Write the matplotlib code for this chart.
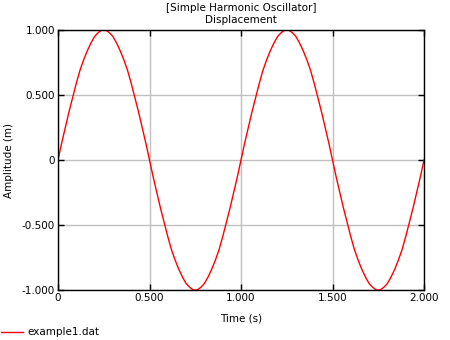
"""
Simple harmonic oscillator: displacement vs time from example1.dat.
"""

import matplotlib
matplotlib.use("Agg")
import matplotlib.pyplot as plt
from matplotlib.ticker import FuncFormatter
from matplotlib.lines import Line2D

# Sampled data (time in s, displacement in m)
time_s = [
    0.00, 0.02, 0.04, 0.06, 0.08, 0.10, 0.12, 0.14, 0.16, 0.18,
    0.20, 0.22, 0.24, 0.26, 0.28, 0.30, 0.32, 0.34, 0.36, 0.38,
    0.40, 0.42, 0.44, 0.46, 0.48, 0.50, 0.52, 0.54, 0.56, 0.58,
    0.60, 0.62, 0.64, 0.66, 0.68, 0.70, 0.72, 0.74, 0.76, 0.78,
    0.80, 0.82, 0.84, 0.86, 0.88, 0.90, 0.92, 0.94, 0.96, 0.98,
    1.00, 1.02, 1.04, 1.06, 1.08, 1.10, 1.12, 1.14, 1.16, 1.18,
    1.20, 1.22, 1.24, 1.26, 1.28, 1.30, 1.32, 1.34, 1.36, 1.38,
    1.40, 1.42, 1.44, 1.46, 1.48, 1.50, 1.52, 1.54, 1.56, 1.58,
    1.60, 1.62, 1.64, 1.66, 1.68, 1.70, 1.72, 1.74, 1.76, 1.78,
    1.80, 1.82, 1.84, 1.86, 1.88, 1.90, 1.92, 1.94, 1.96, 1.98,
    2.00,
]
displacement_m = [
    0.00, 0.13, 0.25, 0.37, 0.48, 0.59, 0.69, 0.77, 0.84, 0.90,
    0.95, 0.98, 1.00, 1.00, 0.98, 0.95, 0.90, 0.84, 0.77, 0.69,
    0.59, 0.48, 0.37, 0.25, 0.13, 0.00, -0.13, -0.25, -0.37, -0.48,
    -0.59, -0.69, -0.77, -0.84, -0.90, -0.95, -0.98, -1.00, -1.00, -0.98,
    -0.95, -0.90, -0.84, -0.77, -0.69, -0.59, -0.48, -0.37, -0.25, -0.13,
    0.00, 0.13, 0.25, 0.37, 0.48, 0.59, 0.69, 0.77, 0.84, 0.90,
    0.95, 0.98, 1.00, 1.00, 0.98, 0.95, 0.90, 0.84, 0.77, 0.69,
    0.59, 0.48, 0.37, 0.25, 0.13, 0.00, -0.13, -0.25, -0.37, -0.48,
    -0.59, -0.69, -0.77, -0.84, -0.90, -0.95, -0.98, -1.00, -1.00, -0.98,
    -0.95, -0.90, -0.84, -0.77, -0.69, -0.59, -0.48, -0.37, -0.25, -0.13,
    0.00,
]

x_ticks = [0.0, 0.5, 1.0, 1.5, 2.0]
y_ticks = [-1.0, -0.5, 0.0, 0.5, 1.0]

FS = 7.5
plt.rcParams["font.family"] = "DejaVu Sans"
plt.rcParams["font.size"] = FS


def _fmt(v, pos):
    return "0" if abs(v) < 1e-9 else f"{v:.3f}"


fig = plt.figure(figsize=(4.5, 3.4), dpi=100)
ax = fig.add_axes([58 / 450, 50 / 340, 366 / 450, 260 / 340])

ax.plot(time_s, displacement_m, color="red", linewidth=1.0)

ax.set_xlim(0, 2)
ax.set_ylim(-1, 1)
ax.set_xticks(x_ticks)
ax.set_yticks(y_ticks)
ax.xaxis.set_major_formatter(FuncFormatter(_fmt))
ax.yaxis.set_major_formatter(FuncFormatter(_fmt))
ax.tick_params(direction="in", length=4, width=1, top=True, right=True,
               labelsize=FS, pad=2)
ax.grid(True, color="#c0c0c0", linewidth=1.0)
ax.set_axisbelow(True)
for sp in ax.spines.values():
    sp.set_linewidth(1.0)

ax.set_xlabel("Time (s)", fontsize=FS, labelpad=8)
ax.set_ylabel("Amplitude (m)", fontsize=FS, labelpad=6)
fig.text(241 / 450, 1 - 8 / 340, "[Simple Harmonic Oscillator]",
         ha="center", va="center", fontsize=FS)
fig.text(241 / 450, 1 - 20 / 340, "Displacement",
         ha="center", va="center", fontsize=FS)

# legend strip along the bottom edge
handle = Line2D([], [], color="red", linewidth=1.0)
fig.legend([handle], ["example1.dat"], loc="lower left",
           bbox_to_anchor=(-0.012, -0.01), frameon=False, fontsize=FS,
           handlelength=2.1, handletextpad=0.45, borderaxespad=0.2)

fig.savefig("out.png", dpi=100)
